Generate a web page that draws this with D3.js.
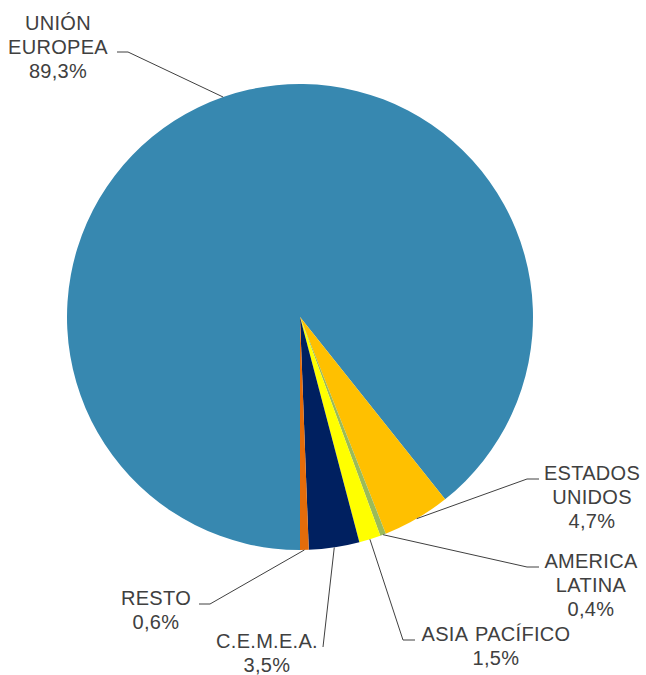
<!DOCTYPE html>
<html>
<head>
<meta charset="utf-8">
<script src="https://cdn.jsdelivr.net/npm/d3@7"></script>
<style>
  html, body { margin: 0; padding: 0; background: #fff; }
  text { font-family: "Liberation Sans", Arial, sans-serif; }
</style>
</head>
<body>
<div id="chart"></div>
<script>
// data
const regions = ['UNIÓN EUROPEA', 'ESTADOS UNIDOS', 'AMERICA LATINA', 'ASIA PACÍFICO', 'C.E.M.E.A.', 'RESTO'];
const shares = [89.3, 4.7, 0.4, 1.5, 3.5, 0.6];
const labelLines = [['UNIÓN', 'EUROPEA'], ['ESTADOS', 'UNIDOS'], ['AMERICA', 'LATINA'], ['ASIA PACÍFICO'], ['C.E.M.E.A.'], ['RESTO']];
const colors = ['#3788b0', '#ffc000', '#9bbb59', '#ffff00', '#002060', '#e46c0a'];

// label layout (text centre x, first baseline y, elbow x,y, tail end x)
const labelLayout = [
  { tx: 58, ty: 30, ex: 128, ey: 52, hx: 117 },
  { tx: 592, ty: 480, ex: 527, ey: 479, hx: 539 },
  { tx: 591, ty: 568, ex: 527, ey: 567, hx: 539 },
  { tx: 496, ty: 641, ex: 403, ey: 640, hx: 415 },
  { tx: 267, ty: 648, ex: 323, ey: 647, hx: 323 },
  { tx: 156, ty: 605, ex: 210, ey: 604, hx: 199 }
];

const W = 646, H = 675;
const cx = 300, cy = 317, R = 233;
const lineH = 24;

const svg = d3.select('#chart').append('svg')
  .attr('width', W).attr('height', H);

const g = svg.append('g').attr('transform', `translate(${cx},${cy})`);

const pie = d3.pie()
  .sort(null)
  .value(d => d)
  .startAngle(Math.PI)
  .endAngle(3 * Math.PI);

const arcs = pie(shares);
const arc = d3.arc().innerRadius(0).outerRadius(R);

g.selectAll('path.slice')
  .data(arcs)
  .enter()
  .append('path')
  .attr('class', 'slice')
  .attr('d', arc)
  .attr('fill', (d, i) => colors[i])
  .attr('stroke', 'none');

const fmt = v => d3.format('.1f')(v).replace('.', ',') + '%';

// leader lines + labels
arcs.forEach((d, i) => {
  const a = (d.startAngle + d.endAngle) / 2;
  const px = cx + R * Math.sin(a);
  const py = cy - R * Math.cos(a);
  const L = labelLayout[i];
  svg.append('polyline')
    .attr('points', `${px},${py} ${L.ex},${L.ey} ${L.hx},${L.ey}`)
    .attr('fill', 'none')
    .attr('stroke', '#404040')
    .attr('stroke-width', 1);

  const t = svg.append('text')
    .attr('text-anchor', 'middle')
    .attr('font-size', 20)
    .attr('letter-spacing', 0.3)
    .attr('word-spacing', 2)
    .attr('fill', '#404040');
  const lines = labelLines[i].concat([fmt(shares[i])]);
  lines.forEach((s, k) => {
    t.append('tspan')
      .attr('x', L.tx)
      .attr('y', L.ty + k * lineH)
      .text(s);
  });
});
</script>
</body>
</html>
